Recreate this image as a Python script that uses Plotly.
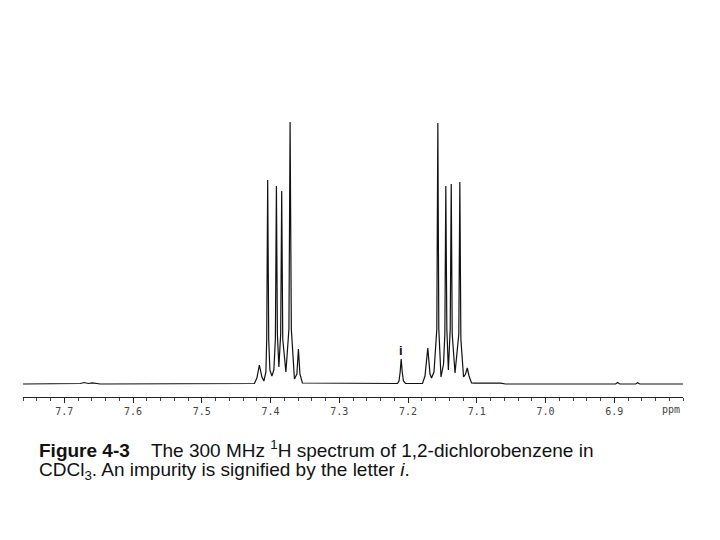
import plotly.graph_objects as go

# Spectrum trace vertices (chemical shift in ppm, intensity in arbitrary units)
ppm = [
    7.7600, 7.6796, 7.6767, 7.6709, 7.6651, 7.6592, 7.6534, 7.6476,
    # 7.39 multiplet
    7.4234, 7.4198, 7.4162, 7.4125, 7.4096, 7.4067, 7.4055, 7.4041, 7.4026, 7.4009,
    7.3980, 7.3951, 7.3929, 7.3914, 7.3900, 7.3878, 7.3852, 7.3837, 7.3822, 7.3776,
    7.3732, 7.3715, 7.3697, 7.3652, 7.3616, 7.3594, 7.3572, 7.3536,
    # impurity
    7.2153, 7.2131, 7.2114, 7.2099, 7.2084, 7.2066, 7.2036,
    # 7.14 multiplet
    7.1789, 7.1753, 7.1712, 7.1680, 7.1658, 7.1622, 7.1581, 7.1566, 7.1552, 7.1520,
    7.1483, 7.1464, 7.1450, 7.1435, 7.1413, 7.1386, 7.1371, 7.1357, 7.1316, 7.1261,
    7.1246, 7.1231, 7.1192, 7.1163, 7.1138, 7.1112, 7.1076, 7.1032,
    7.0654, 7.0581, 6.8980, 6.8951, 6.8921, 6.8689, 6.8659, 6.8630, 6.8000,
]
intensity = [
    0, 0, 0.5, 1.5, 0.5, 1.2, 0.3, 0,
    0.5, 6, 19, 7, 3, 12, 45, 204, 45, 14,
    8, 14, 45, 198, 50, 17, 50, 193, 45, 12,
    55, 262, 55, 5, 10, 35, 10, 1,
    0.5, 3, 12, 25, 12, 3, 0.5,
    0.5, 8, 36, 10, 6, 12, 55, 261, 55, 7,
    20, 50, 198, 55, 14, 55, 200, 50, 11, 50,
    202, 45, 7, 10, 16, 8, 1, 0.8,
    0.8, 0, 0, 1.5, 0, 0, 1.2, 0, 0,
]

tick_vals = [7.7, 7.6, 7.5, 7.4, 7.3, 7.2, 7.1, 7.0, 6.9]
tick_text = ["7.7", "7.6", "7.5", "7.4", "7.3", "7.2", "7.1", "7.0", "6.9"]
x_range = [7.760, 6.800]
impurity_ppm = 7.2099
axis_unit = "ppm"

caption_line1 = ("<b>Figure 4-3</b>\u00a0\u00a0\u00a0\u00a0The 300 MHz <sup>1</sup>H spectrum "
                 "of 1,2-dichlorobenzene in")
caption_line2 = "CDCl<sub>3</sub>. An impurity is signified by the letter <i>i</i>."

fig = go.Figure()
fig.add_trace(go.Scatter(
    x=ppm, y=intensity, mode="lines",
    line=dict(color="#111111", width=1.2),
    hoverinfo="skip", showlegend=False,
))

fig.add_annotation(x=impurity_ppm, y=34, text="<b>i</b>", showarrow=False,
                   font=dict(family="Liberation Sans", size=13, color="#111"))
fig.add_annotation(x=6.818, xref="x", y=0, yref="paper", yanchor="top", yshift=-5,
                   text=axis_unit, showarrow=False,
                   font=dict(family="DejaVu Sans Mono", size=10, color="#444"))
fig.add_annotation(x=0.0212, xref="paper", y=-0.175, yref="paper",
                   xanchor="left", yanchor="middle", text=caption_line1, showarrow=False,
                   font=dict(family="Liberation Sans", size=19, color="#111"))
fig.add_annotation(x=0.0212, xref="paper", y=-0.249, yref="paper",
                   xanchor="left", yanchor="middle", text=caption_line2, showarrow=False,
                   font=dict(family="Liberation Sans", size=19, color="#111"))

fig.update_layout(
    width=720, height=540,
    margin=dict(l=15, r=45, t=92, b=151),
    paper_bgcolor="white", plot_bgcolor="white",
    xaxis=dict(
        range=x_range, showgrid=False, zeroline=False,
        showline=True, linecolor="#222", linewidth=1,
        tickmode="array", tickvals=tick_vals, ticktext=tick_text,
        ticks="outside", ticklen=5, tickcolor="#222", tickwidth=1,
        minor=dict(dtick=0.02, ticks="outside", ticklen=3, tickcolor="#444"),
        tickfont=dict(family="DejaVu Sans Mono", size=10, color="#444"),
    ),
    yaxis=dict(range=[-13, 284], visible=False),
)

fig.write_html("out.html")
